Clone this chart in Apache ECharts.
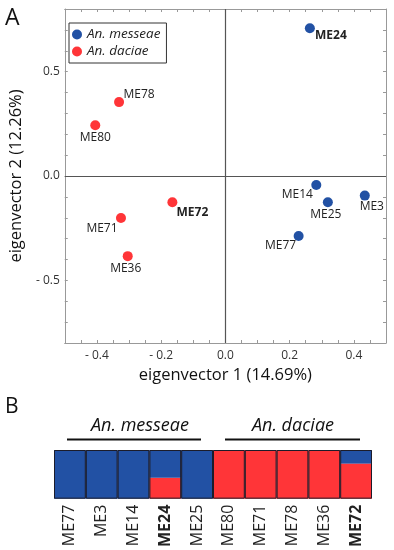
<!DOCTYPE html>
<html>
<head>
<meta charset="utf-8">
<script src="https://cdn.jsdelivr.net/npm/echarts@6/dist/echarts.min.js"></script>
<style>
html,body{margin:0;padding:0;background:#fff;}
#c{width:394px;height:550px;}
</style>
</head>
<body>
<div id="c"></div>
<script>
// ---- Panel A data (PCA) ----
const messeaeNames = ['ME24', 'ME14', 'ME25', 'ME3', 'ME77'];
const messeaeX = [0.263, 0.283, 0.319, 0.434, 0.228];
const messeaeY = [0.708, -0.043, -0.126, -0.094, -0.287];
const daciaeNames = ['ME78', 'ME80', 'ME72', 'ME71', 'ME36'];
const daciaeX = [-0.331, -0.405, -0.165, -0.325, -0.304];
const daciaeY = [0.354, 0.243, -0.126, -0.201, -0.384];
const boldNames = ['ME24', 'ME72'];

// ---- Panel B data (admixture) ----
const admixCategories = ['ME77', 'ME3', 'ME14', 'ME24', 'ME25', 'ME80', 'ME71', 'ME78', 'ME36', 'ME72'];
const daciaeShare = [0, 0, 0, 0.43, 0, 1, 1, 1, 1, 0.72];
const messeaeShare = [1, 1, 1, 0.57, 1, 0, 0, 0, 0, 0.28];
const frameValues = [1, 1, 1, 1, 1, 1, 1, 1, 1, 1];

// ---- styling (positions of labels relative to points) ----
const labelOffsets = {
  ME24: [21, 7], ME78: [20, -8], ME80: [0, 12], ME72: [20, 10], ME71: [-19, 11],
  ME36: [-2, 12], ME14: [-19, 10], ME25: [-2, 12], ME3: [7, 11], ME77: [-18, 10]
};
const BLUE = '#2251a4';
const RED = '#ff3538';
const FONT = '"Open Sans", "Noto Sans", sans-serif';

function pts(names, xs, ys) {
  return names.map((n, i) => ({
    name: n,
    value: [xs[i], ys[i]],
    label: {
      show: true,
      position: 'inside',
      align: 'center',
      verticalAlign: 'middle',
      offset: labelOffsets[n],
      formatter: n,
      fontSize: 12,
      fontFamily: FONT,
      color: '#222',
      fontWeight: boldNames.includes(n) ? 'bold' : 'normal'
    }
  }));
}

function fmt(v, step) {
  const r = v / step;
  if (Math.abs(r - Math.round(r)) > 1e-6) return '';
  if (Math.abs(v) < 1e-9) return '0.0';
  return v < 0 ? '- ' + Math.abs(v).toFixed(1) : v.toFixed(1);
}

const chart = echarts.init(document.getElementById('c'), null, {renderer: 'canvas'});
const boxLine = {show: true, onZero: false, lineStyle: {color: '#999', width: 1}};
const tickIn = {show: true, inside: true, length: 3, lineStyle: {color: '#999'}};

chart.setOption({
  animation: false,
  textStyle: {fontFamily: FONT},
  legend: {
    left: 69, top: 23,
    orient: 'vertical',
    data: ['An. messeae', 'An. daciae'],
    icon: 'circle',
    itemWidth: 10, itemHeight: 10, itemGap: 2,
    padding: [4, 6, 4, 3],
    borderColor: '#333', borderWidth: 1,
    backgroundColor: '#fff',
    textStyle: {fontSize: 13.5, fontStyle: 'italic', color: '#222', fontFamily: FONT, lineHeight: 15}
  },
  grid: [
    {left: 55, top: 9, width: 331, height: 334},
    {left: 54, top: 450, width: 318, height: 49}
  ],
  xAxis: [
    {
      gridIndex: 0, type: 'value', min: -0.5, max: 0.5, interval: 0.05, position: 'bottom',
      axisLine: boxLine, axisTick: tickIn, splitLine: {show: false},
      axisLabel: {formatter: v => fmt(v, 0.2), fontSize: 12, color: '#333', margin: 7, fontFamily: FONT},
      name: 'eigenvector 1 (14.69%)', nameLocation: 'middle', nameGap: 23,
      nameTextStyle: {fontSize: 16.5, color: '#111', fontFamily: FONT}
    },
    {
      gridIndex: 0, type: 'value', min: -0.5, max: 0.5, interval: 0.05, position: 'top',
      axisLine: boxLine, axisTick: tickIn, splitLine: {show: false}, axisLabel: {show: false}
    },
    {
      gridIndex: 1, type: 'category', data: admixCategories,
      axisLine: {show: false}, axisTick: {show: false}, splitLine: {show: false},
      axisLabel: {
        rotate: 90, margin: 6, fontSize: 16, color: '#222', fontFamily: FONT,
        formatter: v => boldNames.includes(v) ? '{b|' + v + '}' : v,
        rich: {b: {fontWeight: 'bold', fontSize: 16, color: '#222', fontFamily: FONT}}
      }
    }
  ],
  yAxis: [
    {
      gridIndex: 0, type: 'value', min: -0.8, max: 0.8, interval: 0.1, position: 'left',
      axisLine: boxLine, axisTick: tickIn, splitLine: {show: false},
      axisLabel: {formatter: v => fmt(v, 0.5), fontSize: 12, color: '#333', margin: 5, fontFamily: FONT},
      name: 'eigenvector 2 (12.26%)', nameLocation: 'middle', nameGap: 27,
      nameTextStyle: {fontSize: 16.5, color: '#111', fontFamily: FONT}
    },
    {
      gridIndex: 0, type: 'value', min: -0.8, max: 0.8, interval: 0.1, position: 'right',
      axisLine: boxLine, axisTick: tickIn, splitLine: {show: false}, axisLabel: {show: false}
    },
    {
      gridIndex: 1, type: 'value', min: 0, max: 1, show: false
    }
  ],
  series: [
    {
      name: 'An. messeae', type: 'scatter', xAxisIndex: 0, yAxisIndex: 0,
      symbolSize: 10, itemStyle: {color: BLUE, opacity: 1},
      data: pts(messeaeNames, messeaeX, messeaeY),
      markLine: {
        silent: true, symbol: 'none', label: {show: false},
        lineStyle: {color: '#555', width: 1.2, type: 'solid'},
        data: [{xAxis: 0}, {yAxis: 0}]
      }
    },
    {
      name: 'An. daciae', type: 'scatter', xAxisIndex: 0, yAxisIndex: 0,
      symbolSize: 10, itemStyle: {color: RED, opacity: 1},
      data: pts(daciaeNames, daciaeX, daciaeY)
    },
    {
      type: 'bar', xAxisIndex: 2, yAxisIndex: 2, stack: 'q', barWidth: '100%',
      itemStyle: {color: RED}, data: daciaeShare
    },
    {
      type: 'bar', xAxisIndex: 2, yAxisIndex: 2, stack: 'q', barWidth: '100%',
      itemStyle: {color: BLUE}, data: messeaeShare
    },
    {
      type: 'bar', xAxisIndex: 2, yAxisIndex: 2, stack: 'frame', barWidth: '100%', barGap: '-100%',
      z: 5, silent: true,
      itemStyle: {color: 'rgba(0,0,0,0)', borderColor: '#1c1c2a', borderWidth: 1},
      data: frameValues
    }
  ],
  graphic: [
    {type: 'text', left: 5, top: 7, style: {text: 'A', fontSize: 23, fill: '#111', fontFamily: FONT}},
    {type: 'text', left: 5, top: 397, style: {text: 'B', fontSize: 21, fill: '#111', fontFamily: FONT}},
    {type: 'text', x: 140, y: 426, style: {text: 'An. messeae', fontSize: 18, fontStyle: 'italic', fill: '#111', align: 'center', verticalAlign: 'middle', fontFamily: FONT}},
    {type: 'text', x: 293, y: 426, style: {text: 'An. daciae', fontSize: 18, fontStyle: 'italic', fill: '#111', align: 'center', verticalAlign: 'middle', fontFamily: FONT}},
    {type: 'line', shape: {x1: 67, y1: 439.5, x2: 201, y2: 439.5}, style: {stroke: '#111', lineWidth: 1.8}},
    {type: 'line', shape: {x1: 225, y1: 439.5, x2: 360, y2: 439.5}, style: {stroke: '#111', lineWidth: 1.8}}
  ]
});
</script>
</body>
</html>
